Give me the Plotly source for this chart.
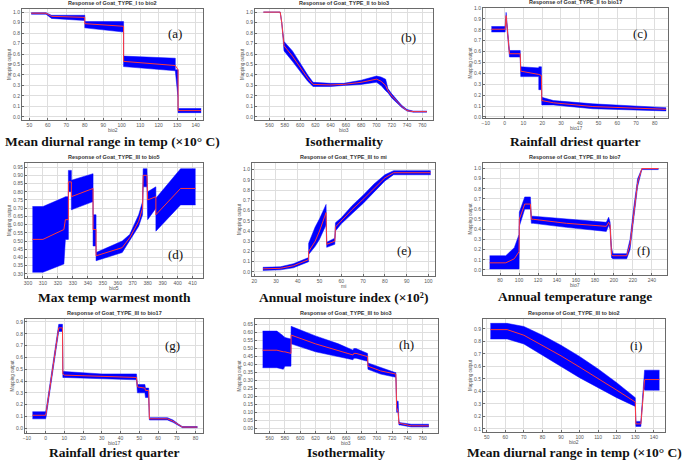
import plotly.graph_objects as go

# ---- data: x, upper, middle, lower of each response band ----
X_A = [51, 59, 62, 80, 80, 101, 101, 129, 129, 130.5, 130.5, 143]
HI_A = [0.995, 0.995, 0.97, 0.97, 0.91, 0.91, 0.58, 0.56, 0.45, 0.45, 0.08, 0.08]
MID_A = [0.99, 0.99, 0.96, 0.95, 0.89, 0.865, 0.53, 0.49, 0.49, 0.45, 0.06, 0.06]
LO_A = [0.98, 0.98, 0.94, 0.92, 0.85, 0.81, 0.48, 0.44, 0.44, 0.18, 0.04, 0.04]

X_B = [552, 574, 576, 579, 590, 600, 610, 617, 640, 657, 680, 700, 706, 712, 715, 720, 726, 733, 740, 748, 766]
HI_B = [1.0, 1.0, 0.9, 0.72, 0.63, 0.51, 0.40, 0.33, 0.32, 0.32, 0.35, 0.39, 0.38, 0.36, 0.27, 0.22, 0.17, 0.11, 0.07, 0.055, 0.055]
MID_B = [1.0, 1.0, 0.9, 0.68, 0.58, 0.47, 0.37, 0.31, 0.305, 0.31, 0.33, 0.36, 0.34, 0.30, 0.25, 0.20, 0.155, 0.10, 0.06, 0.05, 0.05]
LO_B = [1.0, 1.0, 0.9, 0.63, 0.53, 0.43, 0.34, 0.29, 0.29, 0.30, 0.31, 0.33, 0.30, 0.25, 0.23, 0.18, 0.14, 0.09, 0.055, 0.045, 0.045]

X_C = [-7, 0.3, 0.8, 2.6, 2.6, 8.3, 8.6, 18.2, 18.2, 19.6, 19.8, 26, 47, 86]
HI_C = [0.83, 0.83, 0.96, 0.63, 0.61, 0.61, 0.46, 0.45, 0.46, 0.46, 0.18, 0.15, 0.12, 0.085]
MID_C = [0.805, 0.805, 0.93, 0.61, 0.58, 0.58, 0.42, 0.39, 0.39, 0.38, 0.15, 0.13, 0.095, 0.07]
LO_C = [0.78, 0.78, 0.90, 0.59, 0.55, 0.55, 0.37, 0.37, 0.25, 0.25, 0.11, 0.11, 0.075, 0.055]

X_D = [303, 310, 324, 325, 327, 327, 329, 329, 343.5, 343.5, 345.5, 345.5, 363, 368, 374, 376.6, 377, 379.5, 380, 385.5, 385.5, 402, 412]
HI_D = [0.71, 0.71, 0.765, 0.77, 0.77, 0.93, 0.93, 0.87, 0.91, 0.66, 0.66, 0.43, 0.50, 0.54, 0.66, 0.74, 0.94, 0.94, 0.80, 0.83, 0.76, 0.94, 0.94]
MID_D = [0.51, 0.51, 0.57, 0.63, 0.63, 0.86, 0.86, 0.77, 0.82, 0.57, 0.57, 0.41, 0.46, 0.52, 0.62, 0.70, 0.90, 0.90, 0.75, 0.77, 0.66, 0.82, 0.82]
LO_D = [0.31, 0.31, 0.36, 0.51, 0.51, 0.80, 0.80, 0.69, 0.74, 0.47, 0.47, 0.38, 0.43, 0.50, 0.59, 0.66, 0.83, 0.83, 0.63, 0.70, 0.56, 0.72, 0.72]

X_E = [24, 32, 38, 42, 45, 45, 48, 50, 53, 53.3, 57, 57.3, 60, 65, 70, 75, 80, 84, 101]
HI_E = [0.045, 0.05, 0.08, 0.11, 0.14, 0.28, 0.44, 0.52, 0.66, 0.29, 0.33, 0.48, 0.53, 0.65, 0.75, 0.86, 0.95, 0.99, 0.99]
MID_E = [0.03, 0.035, 0.06, 0.09, 0.12, 0.2, 0.3, 0.4, 0.58, 0.27, 0.30, 0.44, 0.5, 0.61, 0.71, 0.82, 0.92, 0.97, 0.97]
LO_E = [0.015, 0.02, 0.04, 0.07, 0.10, 0.17, 0.25, 0.32, 0.46, 0.24, 0.27, 0.40, 0.47, 0.57, 0.67, 0.78, 0.89, 0.95, 0.95]

X_F = [69, 86, 95, 100, 100.3, 106, 112, 113, 115, 150, 192, 194.5, 196, 197.5, 199, 213.5, 217, 221, 225, 229.5, 247]
HI_F = [0.14, 0.14, 0.22, 0.35, 0.57, 0.72, 0.72, 0.53, 0.53, 0.50, 0.47, 0.52, 0.47, 0.22, 0.16, 0.16, 0.30, 0.62, 0.90, 1.0, 1.0]
MID_F = [0.07, 0.07, 0.11, 0.18, 0.50, 0.65, 0.65, 0.50, 0.50, 0.46, 0.43, 0.47, 0.44, 0.15, 0.14, 0.14, 0.25, 0.57, 0.86, 1.0, 1.0]
LO_F = [0.01, 0.01, 0.01, 0.01, 0.43, 0.60, 0.60, 0.46, 0.46, 0.42, 0.38, 0.44, 0.40, 0.12, 0.11, 0.11, 0.20, 0.52, 0.82, 0.99, 0.99]

X_G = [-7, 0, 0.3, 4, 7, 9, 9.2, 10, 30, 48.5, 49, 53, 53.3, 55, 55.4, 65, 68, 71, 73, 81]
HI_G = [0.14, 0.14, 0.16, 0.55, 0.88, 0.88, 0.48, 0.48, 0.46, 0.46, 0.37, 0.37, 0.34, 0.34, 0.09, 0.09, 0.07, 0.035, 0.015, 0.015]
MID_G = [0.11, 0.11, 0.13, 0.52, 0.85, 0.85, 0.46, 0.45, 0.44, 0.43, 0.35, 0.34, 0.32, 0.32, 0.08, 0.08, 0.06, 0.03, 0.01, 0.01]
LO_G = [0.08, 0.08, 0.10, 0.48, 0.82, 0.82, 0.43, 0.43, 0.42, 0.41, 0.30, 0.30, 0.26, 0.26, 0.07, 0.07, 0.05, 0.02, 0.005, 0.005]

X_H = [551, 569.6, 578, 580, 588, 588.2, 620, 650, 669, 670, 673, 688, 688.5, 705, 724, 725, 726, 728, 729, 731, 745, 768]
HI_H = [0.61, 0.61, 0.58, 0.57, 0.56, 0.64, 0.58, 0.53, 0.49, 0.50, 0.50, 0.47, 0.41, 0.38, 0.35, 0.35, 0.17, 0.17, 0.04, 0.035, 0.025, 0.025]
MID_H = [0.49, 0.49, 0.48, 0.48, 0.47, 0.585, 0.53, 0.49, 0.46, 0.47, 0.47, 0.45, 0.39, 0.36, 0.34, 0.34, 0.13, 0.10, 0.03, 0.03, 0.015, 0.015]
LO_H = [0.38, 0.38, 0.37, 0.39, 0.39, 0.53, 0.48, 0.45, 0.43, 0.44, 0.44, 0.42, 0.37, 0.34, 0.32, 0.32, 0.10, 0.10, 0.02, 0.02, 0.008, 0.008]

X_I = [52, 61, 70, 80, 90, 100, 110, 120, 130, 130.3, 133, 134.5, 135, 143]
HI_I = [0.945, 0.945, 0.92, 0.85, 0.77, 0.68, 0.58, 0.47, 0.35, 0.16, 0.16, 0.50, 0.57, 0.57]
MID_I = [0.895, 0.895, 0.85, 0.77, 0.685, 0.595, 0.505, 0.41, 0.315, 0.14, 0.14, 0.47, 0.495, 0.495]
LO_I = [0.82, 0.82, 0.78, 0.69, 0.60, 0.51, 0.43, 0.35, 0.28, 0.12, 0.12, 0.43, 0.41, 0.41]

TITLES = ["Response of Goat_TYPE_I to bio2", "Response of Goat_TYPE_II to bio3",
          "Response of Goat_TYPE_II to bio17", "Response of Goat_TYPE_III to bio5",
          "Response of Goat_TYPE_III to mi", "Response of Goat_TYPE_III to bio7",
          "Response of Goat_TYPE_III to bio17", "Response of Goat_TYPE_III to bio3",
          "Response of Goat_TYPE_III to bio2"]
XLABELS = ["bio2", "bio3", "bio17", "bio5", "mi", "bio7", "bio17", "bio3", "bio2"]
LETTERS = ["(a)", "(b)", "(c)", "(d)", "(e)", "(f)", "(g)", "(h)", "(i)"]
CAPTIONS = ["Mean diurnal range in temp (×10° C)", "Isothermality", "Rainfall driest quarter",
            "Max temp warmest month", "Annual moisture index (×10²)", "Annual temperature range",
            "Rainfall driest quarter", "Isothermality", "Mean diurnal range in temp (×10° C)"]
X_TICKS = [list(range(50, 141, 10)), list(range(560, 761, 20)), list(range(-10, 81, 10)),
           list(range(300, 411, 10)), list(range(20, 101, 10)), list(range(80, 241, 20)),
           list(range(-10, 81, 10)), list(range(560, 761, 20)), list(range(50, 141, 10))]
Y_TICKS = [[i / 10 for i in range(0, 11)], [i / 10 for i in range(0, 11)], [i / 10 for i in range(0, 11)],
           [round(0.30 + 0.05 * i, 2) for i in range(14)], [i / 10 for i in range(0, 11)],
           [i / 10 for i in range(0, 11)], [i / 10 for i in range(0, 10)],
           [round(0.05 * i, 2) for i in range(14)], [i / 10 for i in range(1, 10)]]

series = [(X_A, HI_A, MID_A, LO_A), (X_B, HI_B, MID_B, LO_B), (X_C, HI_C, MID_C, LO_C),
          (X_D, HI_D, MID_D, LO_D), (X_E, HI_E, MID_E, LO_E), (X_F, HI_F, MID_F, LO_F),
          (X_G, HI_G, MID_G, LO_G), (X_H, HI_H, MID_H, LO_H), (X_I, HI_I, MID_I, LO_I)]

# ---- layout: plot boxes in pixels (left, right, top, bottom), axis ranges ----
W, H = 685, 461
boxes = [(22, 203, 9, 120), (255, 433, 9, 120), (483, 668, 8, 118),
         (25, 203, 163, 278), (252, 435, 163, 276), (483, 667, 163, 275),
         (25, 203, 319, 433), (255, 438, 319, 433), (483, 665, 319, 432)]
xranges = [[46, 144], [541, 774], [-11.5, 87], [298, 417], [19, 103], [62, 256],
           [-11, 84], [541, 780], [48, 146]]
yranges = [[-0.03, 1.03], [-0.03, 1.03], [-0.01, 1.0], [0.275, 0.975], [-0.04, 1.065],
           [-0.05, 1.055], [-0.04, 0.925], [-0.03, 0.686], [0.075, 0.98]]
letter_pos = [(175, 33), (408, 37), (640, 33), (175, 254), (404, 250), (643, 250),
              (172, 345), (406, 344), (636, 345)]
caption_y = [141, 141, 141, 297, 297, 296, 452, 452, 452]

small = dict(family="Liberation Sans", size=5, color="#555555")

fig = go.Figure()
annotations = []
for i, (xs, hi, mid, lo) in enumerate(series):
    n = "" if i == 0 else str(i + 1)
    xa, ya = "x" + n, "y" + n
    fig.add_trace(go.Scatter(x=xs, y=lo, mode="lines", line=dict(color="#0000ff", width=0.5),
                             xaxis=xa, yaxis=ya, showlegend=False, hoverinfo="skip"))
    fig.add_trace(go.Scatter(x=xs, y=hi, mode="lines", fill="tonexty", fillcolor="#0000ff",
                             line=dict(color="#0000ff", width=0.5),
                             xaxis=xa, yaxis=ya, showlegend=False, hoverinfo="skip"))
    fig.add_trace(go.Scatter(x=xs, y=mid, mode="lines", line=dict(color="#ff3a3a", width=1),
                             xaxis=xa, yaxis=ya, showlegend=False))
    l, r, t, b = boxes[i]
    yfmt = ".2f" if i in (3, 7) else ".1f"
    axis_common = dict(showline=True, mirror=True, linecolor="#6a6a6a", linewidth=1,
                       showgrid=True, gridcolor="#dedede", gridwidth=1, zeroline=False,
                       ticks="inside", ticklen=2, tickcolor="#6a6a6a", automargin=False,
                       tickfont=small)
    fig.layout["xaxis" + n] = dict(axis_common, domain=[l / W, r / W], anchor=ya,
                                   range=xranges[i], tickvals=X_TICKS[i])
    fig.layout["yaxis" + n] = dict(axis_common, domain=[1 - b / H, 1 - t / H], anchor=xa,
                                   range=yranges[i], tickvals=Y_TICKS[i], tickformat=yfmt,
                                   title=dict(text="Mapping output", standoff=1,
                                              font=dict(family="Liberation Sans", size=4.5, color="#555555")))
    annotations.append(dict(text="<b>" + TITLES[i] + "</b>", x=(l + r) / 2 / W, y=1 - (t - 1) / H,
                            xref="paper", yref="paper", xanchor="center", yanchor="bottom",
                            showarrow=False, font=dict(family="Liberation Sans", size=5.5, color="#333333")))
    # x-axis label just under the tick labels
    annotations.append(dict(text=XLABELS[i], x=(l + r) / 2 / W, y=1 - (b + 10) / H,
                            xref="paper", yref="paper", xanchor="center", yanchor="middle",
                            showarrow=False, font=small))
    lx, ly = letter_pos[i]
    annotations.append(dict(text=LETTERS[i], x=lx / W, y=1 - ly / H, xref="paper", yref="paper",
                            xanchor="center", yanchor="middle", showarrow=False,
                            font=dict(family="Liberation Serif", size=13, color="#111111")))
    annotations.append(dict(text="<b>" + CAPTIONS[i] + "</b>", x=(l + r) / 2 / W, y=1 - caption_y[i] / H,
                            xref="paper", yref="paper", xanchor="center", yanchor="middle",
                            showarrow=False, font=dict(family="Liberation Serif", size=13.5, color="#111111")))

fig.update_layout(width=W, height=H, margin=dict(l=0, r=0, t=0, b=0),
                  paper_bgcolor="white", plot_bgcolor="white", annotations=annotations)
# the page's default 8px body margin would push the figure out of the window
fig.write_html("out.html", config={"displayModeBar": False},
               post_script="document.body.style.margin='0';")
